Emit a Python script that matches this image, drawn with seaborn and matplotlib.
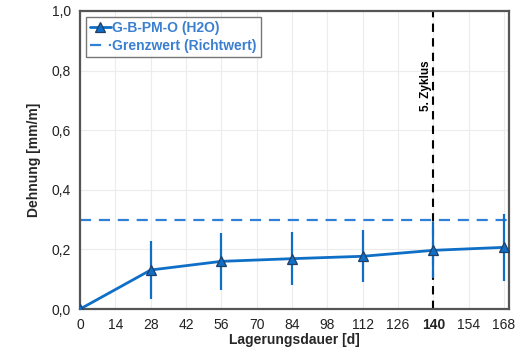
import numpy as np
import pandas as pd
import matplotlib
matplotlib.use('Agg')
import matplotlib.pyplot as plt
import seaborn as sns
from matplotlib.ticker import FuncFormatter

sns.set_style('white')
plt.rcParams['font.family'] = ['Liberation Sans', 'DejaVu Sans']

# data
tage = [0, 28, 56, 84, 112, 140, 168]
dehnung = [0.0, 0.131, 0.160, 0.169, 0.177, 0.197, 0.207]
fehler = [0.0, 0.098, 0.096, 0.088, 0.087, 0.094, 0.113]
grenzwert = 0.3
zyklus_tag = 140
x_ticks = list(range(0, 169, 14))
y_ticks = [0.0, 0.2, 0.4, 0.6, 0.8, 1.0]

df = pd.DataFrame({'tage': tage, 'dehnung': dehnung, 'fehler': fehler})

blue = '#0F6FC6'
dash_blue = '#2F80D8'
text_blue = '#3A7FD0'

fig = plt.figure(figsize=(5.2, 3.54), dpi=100)
ax = fig.add_axes([0.154, 0.127, 0.825, 0.842])

ax.grid(True, color='#ECECEC', lw=0.8)
ax.set_axisbelow(True)

ax.errorbar(df['tage'], df['dehnung'], yerr=df['fehler'], fmt='none',
            ecolor=blue, elinewidth=1.6, capsize=0, zorder=3)
sns.lineplot(data=df, x='tage', y='dehnung', ax=ax, color=blue, lw=2,
             marker='^', markersize=7, markerfacecolor=blue,
             markeredgecolor='#1F3F66', markeredgewidth=0.9,
             label='G-B-PM-O (H2O)', zorder=4)
ax.axhline(grenzwert, color=dash_blue, lw=1.6, ls=(0, (5, 3.5)),
           label='Grenzwert (Richtwert)', zorder=2)
ax.axvline(zyklus_tag, color='black', lw=1.5, ls=(0, (4, 3)), zorder=2)
ax.text(zyklus_tag - 3, 0.75, '5. Zyklus', rotation=90, ha='center', va='center',
        fontsize=8.5, fontweight='bold', color='black')

ax.set_xlim(0, 170)
ax.set_ylim(0, 1.0)
ax.set_xticks(x_ticks)
ax.set_yticks(y_ticks)
ax.yaxis.set_major_formatter(FuncFormatter(lambda v, p: f'{v:.1f}'.replace('.', ',')))
ax.tick_params(axis='both', labelsize=10, length=3, color='#555555', colors='#222222')
for lbl in ax.get_xticklabels():
    if lbl.get_text() == str(zyklus_tag):
        lbl.set_fontweight('bold')

ax.set_xlabel('Lagerungsdauer [d]', fontsize=10, fontweight='bold', labelpad=1)
ax.set_ylabel('Dehnung [mm/m]', fontsize=10, fontweight='bold', labelpad=8)

for s in ax.spines.values():
    s.set_color('#555555')
    s.set_linewidth(1.6)

leg = ax.legend(loc='upper left', fontsize=10, frameon=True, fancybox=False,
                borderpad=0.3, labelspacing=0.3, handlelength=1.5, handletextpad=0.1,
                borderaxespad=0.4)
leg.get_frame().set_edgecolor('#555555')
leg.get_frame().set_linewidth(1.0)
for t in leg.get_texts():
    t.set_color(text_blue)
    t.set_fontweight('bold')

fig.savefig('out.png', dpi=100)
